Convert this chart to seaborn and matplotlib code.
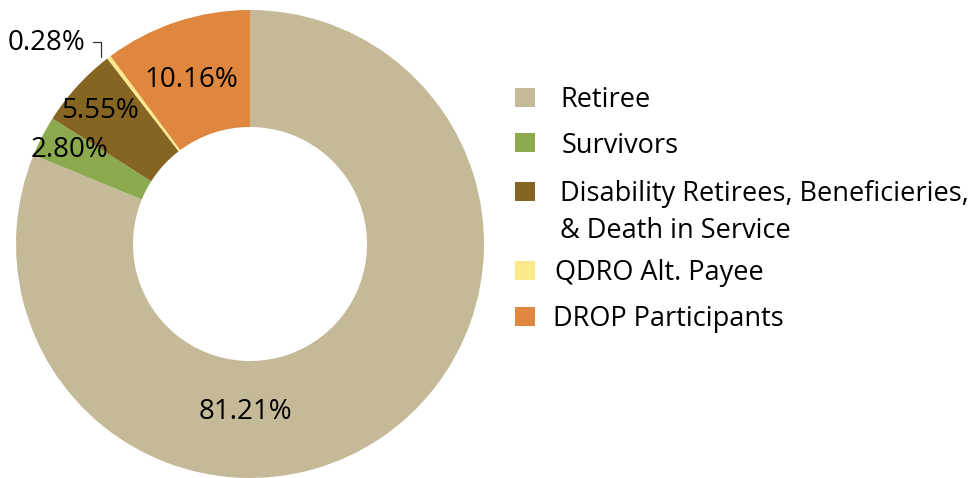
import matplotlib
matplotlib.use("Agg")
import matplotlib.pyplot as plt
from matplotlib.patches import Rectangle
import seaborn as sns

categories = ["Retiree", "Survivors",
              "Disability Retirees, Beneficieries,\n& Death in Service",
              "QDRO Alt. Payee", "DROP Participants"]
shares = [81.21, 2.80, 5.55, 0.28, 10.16]
share_labels = ["81.21%", "2.80%", "5.55%", "0.28%", "10.16%"]
colors = ["#C5BA98", "#8BAA4E", "#856521", "#FDE98C", "#DF863F"]

sns.set_theme(style="white")
plt.rcParams["font.family"] = ["Open Sans", "DejaVu Sans"]
palette = sns.color_palette(colors)

W, H = 973, 478
fig = plt.figure(figsize=(W / 100, H / 100), dpi=100)
ax = fig.add_axes([16 / W, 0.0, 468 / W, 468 / H])
wedges, _ = ax.pie(shares, colors=palette, startangle=90, counterclock=False,
                   radius=1.0, wedgeprops=dict(width=0.5, linewidth=0))
ax.set_xlim(-1, 1)
ax.set_ylim(-1, 1)
ax.set_aspect("equal")
ax.axis("off")

# percentage labels, in the same order as the wedges
label_pos = [(-0.02, -0.72), (-0.77, 0.40), (-0.64, 0.57), (-0.87, 0.86), (-0.25, 0.70)]
for txt, (x, y) in zip(share_labels, label_pos):
    ax.text(x, y, txt, ha="center", va="center", fontsize=20, color="black",
            clip_on=False)
# small leader for the thin QDRO slice
ax.plot([-0.670, -0.635, -0.635], [0.865, 0.865, 0.80], color="#333333",
        lw=0.9, clip_on=False)

# legend: swatch row centres and text starts, in pixels from the top-left
row_y = [97, 143, 191, 270, 316]
text_x = [560, 562, 560, 555, 553]
line_gap = 37
for wedge, label, y, tx in zip(wedges, categories, row_y, text_x):
    fig.patches.append(Rectangle((515 / W, 1 - (y + 9.5) / H), 20 / W, 19 / H,
                                 transform=fig.transFigure,
                                 facecolor=wedge.get_facecolor(), edgecolor="none"))
    for i, line in enumerate(label.split("\n")):
        fig.text(tx / W, 1 - (y + 10 + i * line_gap) / H, line, ha="left",
                 va="baseline", fontsize=19.5, color="black")

fig.savefig("out.png", dpi=100, facecolor="white")
